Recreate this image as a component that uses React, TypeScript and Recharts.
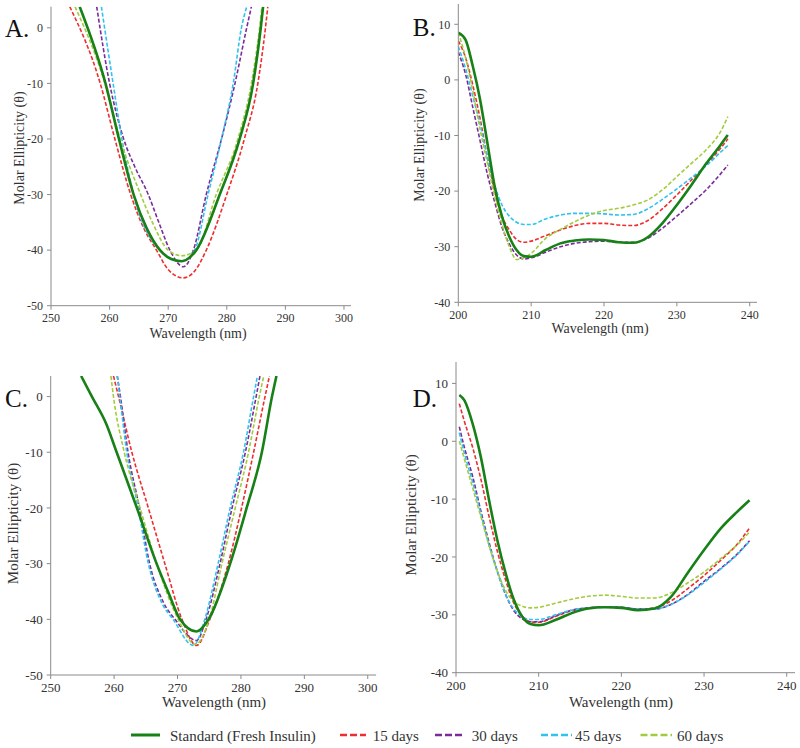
import React from "react";
import { LineChart, Line, XAxis, YAxis } from "recharts";

type Pt = [number, number];

// ---- Panel A (near-UV), [wavelength nm, ellipticity] ----
const aStandard: Pt[] = [[254.9, 3.8], [259.3, -10], [261.6, -20], [264.1, -30], [266.3, -36], [268.6, -40], [270.5, -41.6], [272.3, -42], [274, -41], [274.8, -40], [278.8, -30], [282.2, -20], [284.5, -10], [285.8, 0], [286.2, 3.8]];
const a15: Pt[] = [[253.2, 3.8], [258.4, -10], [260.9, -20], [263.6, -30], [265.8, -36], [268, -40], [270, -43.5], [272.6, -45], [274.5, -43.8], [276.5, -40], [280, -30], [283, -20], [285.3, -10], [286.6, 0], [287, 3.8]];
const a30: Pt[] = [[257.8, 3.8], [260, -10], [262.4, -20], [264.3, -25], [266.6, -30], [268.4, -35], [270.3, -40], [272.6, -43], [274.3, -40], [276.5, -30], [279.1, -20], [281.4, -10], [283.4, 0], [284.2, 3.8]];
const a45: Pt[] = [[258.6, 3.8], [260.6, -10], [262.1, -20], [264.1, -30], [268.6, -40], [272.3, -42], [274.5, -40], [276.8, -30], [279.1, -20], [281.1, -10], [282.5, 0], [283.4, 3.8]];
const a60: Pt[] = [[254.1, 3.8], [259.2, -10], [261.8, -20], [265.3, -30], [267.3, -35], [270, -40], [272.3, -41], [274.8, -40], [278.2, -30], [281.9, -20], [284.2, -10], [285.6, 0], [286, 3.8]];

// ---- Panel B (far-UV) ----
const bWaves = [200, 201, 202, 203, 204, 205, 206, 207, 208, 209, 210, 212, 214, 216, 218, 220, 222, 224, 226, 228, 230, 232, 234, 236, 237];
const bStandard = [8.5, 7.2, 2.4, -3.6, -11.4, -19.2, -24.6, -28.2, -30.6, -31.7, -31.8, -30.6, -29.4, -28.9, -28.7, -28.8, -29.2, -29.3, -28.3, -25.8, -22.5, -18.9, -15.1, -11.7, -9.9];
const b15 = [7, 4, -1, -7, -14, -20, -24.5, -27, -28.7, -29.2, -29, -28, -27, -26.2, -25.8, -25.8, -26.1, -26.2, -25.3, -23.2, -20.7, -18, -15.3, -12.3, -10.6];
const b30 = [5, 1, -5, -11, -17, -22, -26.5, -29.5, -31.5, -32.2, -32, -31, -30, -29.4, -29.1, -29, -29.2, -29.2, -28.5, -26.7, -24.5, -22.2, -19.8, -16.9, -15.3];
const b45 = [6, 2, -3, -8, -14, -19, -22.5, -24.5, -25.6, -26, -26, -25, -24.3, -24, -24, -24.1, -24.3, -24.2, -23.2, -21.5, -19.6, -17.6, -15.5, -13, -11.8];
const b60 = [8.5, 4, -2, -9, -15, -21, -26, -30, -32.3, -32, -31.2, -28.5, -26.9, -25.5, -24.3, -23.5, -23.1, -22.5, -21.6, -19.8, -17.4, -15, -12.6, -9.3, -6.6];

// ---- Panel C (near-UV) ----
const cStandard: Pt[] = [[254.8, 3.7], [256.5, 0], [258.8, -5], [260.4, -10], [263.6, -20], [266.7, -30], [268.5, -35], [270.4, -40], [273, -42.2], [274.9, -40], [278.3, -30], [280.9, -20], [283.3, -10], [284.9, 0], [285.6, 3.7]];
const c15: Pt[] = [[259.9, 3.7], [260.7, 0], [262.8, -10], [265.4, -20], [268, -30], [270.7, -40], [273, -44.7], [275.1, -40], [278, -30], [280.1, -20], [282, -10], [283.8, 0], [284.5, 3.7]];
const c30: Pt[] = [[260.5, 3.7], [261, 0], [262.2, -10], [264, -20], [265.6, -30], [267.8, -37], [269.6, -40], [273, -43.8], [274.5, -40], [276.7, -30], [278.6, -20], [280.7, -10], [282.4, 0], [283, 3.7]];
const c45: Pt[] = [[260.5, 3.7], [260.9, 0], [262, -10], [263.8, -20], [265.4, -30], [267.5, -37], [269.3, -40], [272.5, -44.7], [274.3, -40], [276.4, -30], [278.3, -20], [280.4, -10], [282, 0], [282.6, 3.7]];
const c60: Pt[] = [[259.5, 3.7], [259.9, 0], [261.6, -10], [264.1, -20], [266.7, -30], [270.1, -40], [272.8, -44.5], [275, -40], [277, -30], [279.1, -20], [281.2, -10], [282.9, 0], [283.6, 3.7]];

// ---- Panel D (far-UV) ----
const dWaves = [200.4, 201, 202, 203, 204, 205, 206, 207, 208, 209, 210, 212, 214, 216, 218, 220, 222, 224, 226, 228, 230, 232, 234, 235.5];
const dStandard = [8, 7.1, 3.1, -2.7, -10.2, -17.1, -22.8, -27.4, -30.3, -31.6, -31.8, -30.9, -29.7, -28.9, -28.7, -28.8, -29.2, -28.9, -26.9, -22.8, -18.8, -15.1, -12.2, -10.2];
const d15 = [6.5, 3.5, -1, -6.5, -13, -19, -24, -28, -30.2, -31.2, -31.3, -30.3, -29.3, -28.8, -28.6, -28.7, -29, -28.8, -27.6, -25.5, -23.2, -20.6, -17.8, -15];
const d30 = [2.5, -1, -6, -12, -17.5, -22.5, -26.5, -29.3, -30.7, -31.2, -31.2, -30.2, -29.2, -28.8, -28.6, -28.7, -29, -29, -28.2, -26.5, -24.2, -22, -19.5, -17.2];
const d45 = [1.5, -2, -7, -12.5, -18, -22.5, -26.5, -29, -30.3, -30.8, -30.8, -30, -29.2, -28.8, -28.6, -28.7, -29, -29, -28.2, -26.6, -24.4, -22.1, -19.6, -17.3];
const d60 = [0, -3, -8, -13, -18, -22.5, -25.8, -27.7, -28.5, -28.8, -28.7, -28, -27.3, -26.8, -26.6, -26.8, -27.1, -27.1, -26.2, -24.5, -22.6, -20.3, -17.9, -15.7];

const nearTicksX = [250, 260, 270, 280, 290, 300];
const nearTicksY = [0, -10, -20, -30, -40, -50];
const farTicksX = [200, 210, 220, 230, 240];
const farTicksY = [10, 0, -10, -20, -30, -40];

const SERIES = [
  { key: "std", name: "Standard (Fresh Insulin)", color: "#178017", dashed: false },
  { key: "d15", name: "15 days", color: "#ee2e2e", dashed: true },
  { key: "d30", name: "30 days", color: "#7b2c9a", dashed: true },
  { key: "d45", name: "45 days", color: "#2fc3ee", dashed: true },
  { key: "d60", name: "60 days", color: "#a2cc3e", dashed: true },
];

const FONT = '"Liberation Serif", "Times New Roman", serif';
const AXIS = "#8a8a8a";
const TICK = "#333";

const fromPairs = (pts: Pt[]) => pts.map(([x, y]) => ({ x, y }));
const fromGrid = (w: number[], v: number[]) => w.map((x, i) => ({ x, y: v[i] }));

const panels = [
  {
    id: "A", left: 0, top: 0, W: 360, H: 350, L: 51, R: 351, T: 6.7, B: 305.7,
    xDomain: [250, 301.2], yDomain: [-50, 3.8], xTicks: nearTicksX, yTicks: nearTicksY,
    letter: [5, 36.7], xLab: [198, 338], yLab: [19.5, 148], labFont: 14, tickFont: 12,
    data: { std: fromPairs(aStandard), d15: fromPairs(a15), d30: fromPairs(a30), d45: fromPairs(a45), d60: fromPairs(a60) },
  },
  {
    id: "B", left: 400, top: 0, W: 400, H: 350, L: 58.3, R: 357, T: 4, B: 302.3,
    xDomain: [200, 241], yDomain: [-40, 13.65], xTicks: farTicksX, yTicks: farTicksY,
    letter: [12.7, 36], xLab: [200, 333], yLab: [19, 145], labFont: 14, tickFont: 12,
    data: { std: fromGrid(bWaves, bStandard), d15: fromGrid(bWaves, b15), d30: fromGrid(bWaves, b30), d45: fromGrid(bWaves, b45), d60: fromGrid(bWaves, b60) },
  },
  {
    id: "C", left: 0, top: 360, W: 400, H: 360, L: 50.7, R: 376, T: 16, B: 315,
    xDomain: [250, 301.3], yDomain: [-50, 3.7], xTicks: nearTicksX, yTicks: nearTicksY,
    letter: [5, 46.7], xLab: [214, 346.7], yLab: [13, 163.5], labFont: 15, tickFont: 13,
    data: { std: fromPairs(cStandard), d15: fromPairs(c15), d30: fromPairs(c30), d45: fromPairs(c45), d60: fromPairs(c60) },
  },
  {
    id: "D", left: 400, top: 360, W: 400, H: 360, L: 56, R: 395, T: 2, B: 312.7,
    xDomain: [200, 241], yDomain: [-40, 13.7], xTicks: farTicksX, yTicks: farTicksY,
    letter: [12.7, 46.7], xLab: [221, 346.7], yLab: [11, 155], labFont: 15, tickFont: 13,
    data: { std: fromGrid(dWaves, dStandard), d15: fromGrid(dWaves, d15), d30: fromGrid(dWaves, d30), d45: fromGrid(dWaves, d45), d60: fromGrid(dWaves, d60) },
  },
];

// dashed series drawn first so the standard sits on top
const drawOrder = [...SERIES.slice(1), SERIES[0]];

function Panel({ p }: { p: (typeof panels)[number] }) {
  const yW = 45;
  const xH = 30;
  const margin = { left: p.L - yW, right: p.W - p.R, top: p.T, bottom: p.H - p.B - xH };
  return (
    <div style={{ position: "absolute", left: p.left, top: p.top, width: p.W, height: p.H }}>
      <LineChart width={p.W} height={p.H} margin={margin}>
        <XAxis
          type="number"
          dataKey="x"
          domain={p.xDomain}
          ticks={p.xTicks}
          interval={0}
          allowDataOverflow
          height={xH}
          stroke={AXIS}
          tickSize={4}
          tickMargin={4}
          tick={{ fill: TICK, fontSize: p.tickFont, fontFamily: FONT }}
          label={{
            content: () => (
              <text x={p.xLab[0]} y={p.xLab[1]} textAnchor="middle" fontFamily={FONT} fontSize={p.labFont} fill={TICK}>
                Wavelength (nm)
              </text>
            ),
          }}
        />
        <YAxis
          type="number"
          dataKey="y"
          domain={p.yDomain}
          ticks={p.yTicks}
          interval={0}
          allowDataOverflow
          width={yW}
          stroke={AXIS}
          tickSize={4}
          tickMargin={4}
          tick={{ fill: TICK, fontSize: p.tickFont, fontFamily: FONT }}
          label={{
            content: () => (
              <text
                x={p.yLab[0]}
                y={p.yLab[1]}
                transform={`rotate(-90 ${p.yLab[0]} ${p.yLab[1]})`}
                textAnchor="middle"
                dominantBaseline="central"
                fontFamily={FONT}
                fontSize={p.labFont}
                fill={TICK}
              >
                Molar Ellipticity (θ)
              </text>
            ),
          }}
        />
        {drawOrder.map((s) => (
          <Line
            key={s.key}
            data={(p.data as any)[s.key]}
            dataKey="y"
            name={s.name}
            type="monotone"
            stroke={s.color}
            strokeWidth={s.dashed ? 1.6 : 2.6}
            strokeDasharray={s.dashed ? "4 2" : undefined}
            dot={false}
            activeDot={false}
            isAnimationActive={false}
          />
        ))}
      </LineChart>
      <svg width={p.W} height={p.H} style={{ position: "absolute", left: 0, top: 0, pointerEvents: "none" }}>
        <text x={p.letter[0]} y={p.letter[1]} fontFamily={FONT} fontSize={25} fill="#111">
          {p.id}.
        </text>
      </svg>
    </div>
  );
}

const legendPos = [
  { x1: 131, x2: 160, tx: 170 },
  { x1: 340, x2: 366, tx: 372.7 },
  { x1: 435, x2: 465, tx: 471.7 },
  { x1: 541, x2: 572, tx: 575 },
  { x1: 640.5, x2: 672, tx: 677 },
];

export default function App() {
  return (
    <div style={{ position: "absolute", left: 0, top: 0, width: 800, height: 748, background: "#fff", overflow: "hidden" }}>
      {panels.map((p) => (
        <Panel key={p.id} p={p} />
      ))}
      <svg width={800} height={748} style={{ position: "absolute", left: 0, top: 0, pointerEvents: "none" }}>
        {SERIES.map((s, i) => (
          <g key={s.key}>
            <line
              x1={legendPos[i].x1}
              x2={legendPos[i].x2}
              y1={735}
              y2={735}
              stroke={s.color}
              strokeWidth={s.dashed ? 2.4 : 3}
              strokeDasharray={s.dashed ? "7 3" : undefined}
            />
            <text x={legendPos[i].tx} y={741} fontFamily={FONT} fontSize={15} fill="#333">
              {s.name}
            </text>
          </g>
        ))}
      </svg>
    </div>
  );
}
